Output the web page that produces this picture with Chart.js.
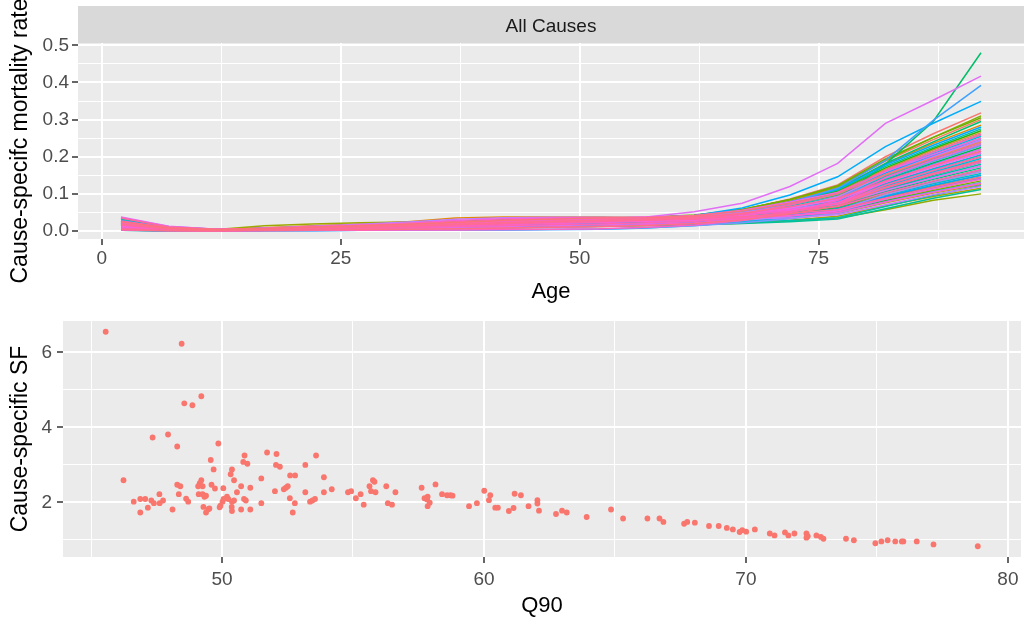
<!DOCTYPE html>
<html>
<head>
<meta charset="utf-8">
<script src="https://cdn.jsdelivr.net/npm/chart.js@4.4.1/dist/chart.umd.min.js"></script>
<style>
  body { margin: 0; background: #fff; }
  canvas { position: absolute; left: 0; }
</style>
</head>
<body>
<canvas id="rateChart" width="1025" height="310" style="top:0"></canvas>
<canvas id="sfChart" width="1025" height="312" style="top:310px"></canvas>
<script>
// age group midpoints
const ages = [2, 7, 12, 17, 22, 27, 32, 37, 42, 47, 52, 57, 62, 67, 72, 77, 82, 87, 92];

// all-cause mortality rate by age, one array per population
const p01 = [0.024,0.008,0.004,0.008,0.012,0.015,0.018,0.022,0.026,0.029,0.032,0.034,0.040,0.056,0.086,0.124,0.200,0.262,0.318];
const p02 = [0.016,0.005,0.003,0.007,0.011,0.014,0.017,0.021,0.025,0.028,0.030,0.032,0.037,0.052,0.080,0.118,0.188,0.246,0.300];
const p03 = [0.012,0.004,0.002,0.005,0.008,0.010,0.013,0.016,0.019,0.022,0.025,0.028,0.032,0.044,0.064,0.090,0.142,0.188,0.230];
const p04 = [0.030,0.010,0.005,0.008,0.011,0.014,0.018,0.024,0.030,0.034,0.036,0.036,0.042,0.055,0.078,0.106,0.166,0.218,0.265];
const p05 = [0.010,0.003,0.002,0.004,0.006,0.008,0.010,0.013,0.016,0.019,0.022,0.025,0.028,0.036,0.050,0.068,0.108,0.142,0.175];
const p06 = [0.022,0.007,0.004,0.009,0.014,0.019,0.025,0.035,0.038,0.038,0.038,0.036,0.042,0.058,0.084,0.116,0.180,0.236,0.285];
const p07 = [0.018,0.006,0.003,0.006,0.009,0.012,0.015,0.019,0.023,0.026,0.028,0.030,0.034,0.044,0.060,0.080,0.128,0.168,0.205];
const p08 = [0.006,0.002,0.001,0.003,0.005,0.007,0.009,0.011,0.014,0.017,0.020,0.022,0.025,0.031,0.041,0.055,0.086,0.113,0.140];
const p09 = [0.014,0.004,0.002,0.006,0.010,0.013,0.017,0.022,0.027,0.031,0.034,0.036,0.041,0.054,0.076,0.102,0.158,0.206,0.250];
const p10 = [0.004,0.001,0.001,0.002,0.004,0.005,0.007,0.009,0.012,0.015,0.018,0.020,0.023,0.030,0.042,0.060,0.098,0.130,0.160];
const p11 = [0.020,0.006,0.003,0.006,0.009,0.011,0.014,0.018,0.022,0.025,0.028,0.031,0.035,0.046,0.064,0.086,0.135,0.176,0.215];
const p12 = [0.009,0.003,0.001,0.003,0.005,0.007,0.009,0.012,0.015,0.018,0.020,0.023,0.026,0.033,0.045,0.060,0.093,0.122,0.150];
const p13 = [0.003,0.001,0.000,0.002,0.003,0.004,0.006,0.008,0.010,0.013,0.016,0.018,0.020,0.025,0.034,0.047,0.076,0.102,0.125];
const p14 = [0.002,0.001,0.000,0.001,0.002,0.003,0.004,0.006,0.008,0.010,0.012,0.015,0.017,0.021,0.029,0.040,0.068,0.093,0.115];
const p15 = [0.015,0.005,0.002,0.005,0.008,0.011,0.014,0.018,0.022,0.026,0.029,0.032,0.037,0.049,0.070,0.096,0.150,0.197,0.240];
const p16 = [0.012,0.005,0.004,0.014,0.019,0.022,0.024,0.027,0.030,0.032,0.033,0.033,0.036,0.045,0.060,0.080,0.120,0.158,0.190];
const p17 = [0.008,0.003,0.002,0.004,0.006,0.007,0.008,0.010,0.012,0.014,0.015,0.017,0.019,0.022,0.027,0.035,0.057,0.083,0.100];
const p18 = [0.026,0.009,0.004,0.007,0.010,0.013,0.017,0.022,0.027,0.031,0.034,0.036,0.042,0.057,0.084,0.120,0.190,0.252,0.310];
const p19 = [0.005,0.002,0.001,0.003,0.004,0.006,0.008,0.010,0.013,0.016,0.019,0.021,0.023,0.029,0.039,0.052,0.082,0.109,0.135];
const p20 = [0.018,0.006,0.003,0.007,0.011,0.014,0.018,0.023,0.028,0.032,0.035,0.037,0.043,0.058,0.085,0.122,0.194,0.252,0.305];
const p21 = [0.013,0.004,0.002,0.005,0.007,0.009,0.012,0.015,0.019,0.022,0.025,0.028,0.032,0.042,0.058,0.078,0.124,0.163,0.200];
const p22 = [0.007,0.002,0.001,0.003,0.005,0.007,0.009,0.012,0.015,0.018,0.021,0.023,0.026,0.033,0.046,0.063,0.102,0.134,0.165];
const p23 = [0.021,0.007,0.003,0.006,0.009,0.012,0.016,0.020,0.024,0.028,0.031,0.033,0.038,0.052,0.076,0.108,0.170,0.222,0.270];
const p24 = [0.008,0.003,0.001,0.004,0.006,0.008,0.011,0.014,0.017,0.020,0.023,0.026,0.029,0.038,0.052,0.071,0.114,0.151,0.185];
const p25 = [0.003,0.001,0.000,0.002,0.003,0.005,0.007,0.009,0.012,0.015,0.018,0.021,0.024,0.031,0.042,0.057,0.090,0.118,0.145];
const p26 = [0.016,0.005,0.002,0.005,0.008,0.010,0.013,0.017,0.021,0.024,0.027,0.030,0.034,0.045,0.063,0.087,0.139,0.183,0.225];
const p27 = [0.006,0.002,0.001,0.002,0.004,0.005,0.007,0.009,0.011,0.014,0.016,0.019,0.021,0.027,0.037,0.050,0.080,0.106,0.130];
const p28 = [0.010,0.003,0.002,0.005,0.008,0.010,0.013,0.016,0.019,0.022,0.025,0.027,0.031,0.040,0.058,0.085,0.180,0.295,0.480];
const p29 = [0.011,0.004,0.002,0.005,0.008,0.011,0.014,0.018,0.022,0.026,0.029,0.031,0.036,0.050,0.076,0.112,0.182,0.240,0.295];
const p30 = [0.023,0.007,0.003,0.006,0.009,0.012,0.015,0.019,0.024,0.028,0.031,0.033,0.038,0.051,0.073,0.102,0.162,0.213,0.260];
const p31 = [0.011,0.003,0.001,0.004,0.006,0.008,0.010,0.013,0.016,0.019,0.022,0.025,0.028,0.036,0.049,0.066,0.106,0.139,0.170];
const p32 = [0.004,0.001,0.001,0.002,0.003,0.004,0.005,0.007,0.009,0.011,0.013,0.015,0.017,0.020,0.025,0.032,0.060,0.088,0.112];
const p33 = [0.019,0.006,0.003,0.006,0.010,0.013,0.016,0.020,0.025,0.029,0.032,0.034,0.039,0.053,0.078,0.110,0.174,0.226,0.275];
const p34 = [0.032,0.010,0.004,0.005,0.006,0.007,0.009,0.011,0.013,0.015,0.017,0.019,0.021,0.024,0.028,0.036,0.066,0.096,0.122];
const p35 = [0.012,0.004,0.002,0.004,0.006,0.009,0.011,0.014,0.018,0.021,0.024,0.026,0.030,0.039,0.053,0.071,0.112,0.147,0.180];
const p36 = [0.034,0.011,0.004,0.006,0.009,0.012,0.015,0.019,0.023,0.027,0.030,0.032,0.037,0.050,0.072,0.098,0.154,0.201,0.245];
const p37 = [0.020,0.006,0.003,0.005,0.008,0.011,0.014,0.018,0.022,0.025,0.028,0.031,0.035,0.047,0.067,0.092,0.146,0.193,0.235];
const p38 = [0.005,0.002,0.001,0.003,0.004,0.006,0.008,0.011,0.014,0.017,0.020,0.022,0.025,0.032,0.044,0.060,0.096,0.127,0.155];
const p39 = [0.015,0.005,0.002,0.005,0.008,0.011,0.014,0.017,0.021,0.025,0.028,0.030,0.034,0.045,0.063,0.086,0.137,0.180,0.220];
const p40 = [0.009,0.003,0.001,0.004,0.006,0.008,0.011,0.014,0.017,0.020,0.023,0.026,0.030,0.039,0.055,0.075,0.120,0.159,0.195];
const p41 = [0.027,0.009,0.004,0.007,0.010,0.013,0.016,0.021,0.025,0.029,0.032,0.034,0.039,0.052,0.074,0.101,0.160,0.209,0.255];
const p42 = [0.002,0.000,0.000,0.001,0.001,0.002,0.002,0.003,0.003,0.004,0.005,0.008,0.015,0.024,0.036,0.052,0.086,0.115,0.142];
const p43 = [0.004,0.001,0.001,0.002,0.004,0.006,0.008,0.011,0.014,0.017,0.020,0.023,0.028,0.039,0.057,0.080,0.127,0.167,0.205];
const p44 = [0.028,0.009,0.004,0.007,0.010,0.013,0.017,0.021,0.026,0.030,0.033,0.035,0.039,0.052,0.073,0.100,0.157,0.204,0.245];
const p45 = [0.017,0.005,0.003,0.006,0.009,0.012,0.016,0.020,0.024,0.028,0.032,0.035,0.042,0.062,0.097,0.146,0.227,0.290,0.349];
const p46 = [0.021,0.006,0.003,0.006,0.009,0.012,0.015,0.020,0.024,0.028,0.031,0.033,0.038,0.052,0.078,0.112,0.178,0.231,0.280];
const p47 = [0.009,0.003,0.001,0.004,0.006,0.007,0.009,0.011,0.013,0.016,0.018,0.021,0.025,0.032,0.044,0.059,0.093,0.123,0.150];
const p48 = [0.014,0.004,0.002,0.005,0.008,0.011,0.014,0.018,0.022,0.026,0.029,0.032,0.037,0.051,0.077,0.115,0.190,0.298,0.392];
const p49 = [0.014,0.004,0.002,0.005,0.007,0.009,0.012,0.015,0.018,0.021,0.024,0.027,0.032,0.044,0.064,0.089,0.142,0.188,0.230];
const p50 = [0.002,0.001,0.000,0.001,0.001,0.002,0.002,0.003,0.003,0.004,0.005,0.009,0.014,0.022,0.033,0.048,0.079,0.106,0.130];
const p51 = [0.026,0.008,0.004,0.007,0.011,0.014,0.018,0.023,0.028,0.032,0.035,0.036,0.040,0.048,0.060,0.077,0.118,0.156,0.190];
const p52 = [0.036,0.012,0.005,0.006,0.008,0.011,0.014,0.018,0.022,0.026,0.029,0.031,0.036,0.049,0.071,0.100,0.160,0.212,0.260];
const p53 = [0.005,0.002,0.001,0.002,0.003,0.004,0.005,0.006,0.008,0.010,0.012,0.016,0.020,0.028,0.040,0.056,0.098,0.131,0.160];
const p54 = [0.018,0.006,0.003,0.008,0.013,0.018,0.024,0.032,0.036,0.037,0.037,0.036,0.040,0.050,0.065,0.085,0.132,0.172,0.210];
const p55 = [0.015,0.005,0.002,0.005,0.008,0.010,0.013,0.016,0.019,0.022,0.025,0.027,0.029,0.032,0.036,0.044,0.071,0.098,0.120];
const p56 = [0.010,0.003,0.001,0.003,0.005,0.007,0.008,0.010,0.012,0.015,0.017,0.020,0.026,0.040,0.062,0.092,0.152,0.200,0.245];
const p57 = [0.019,0.006,0.003,0.005,0.008,0.011,0.014,0.018,0.022,0.026,0.029,0.031,0.034,0.042,0.056,0.072,0.110,0.143,0.175];
const p58 = [0.025,0.008,0.004,0.007,0.010,0.013,0.017,0.021,0.026,0.030,0.034,0.038,0.052,0.075,0.120,0.182,0.290,0.352,0.417];
const p59 = [0.038,0.013,0.005,0.006,0.008,0.010,0.013,0.017,0.021,0.024,0.027,0.029,0.033,0.044,0.062,0.084,0.132,0.172,0.210];
const p60 = [0.024,0.008,0.004,0.007,0.010,0.013,0.017,0.022,0.027,0.031,0.034,0.037,0.042,0.056,0.078,0.104,0.160,0.206,0.250];
const p61 = [0.013,0.004,0.002,0.004,0.006,0.008,0.011,0.014,0.017,0.020,0.023,0.026,0.029,0.034,0.042,0.054,0.086,0.114,0.140];
const p62 = [0.006,0.002,0.001,0.002,0.003,0.004,0.005,0.007,0.009,0.011,0.013,0.017,0.022,0.032,0.050,0.076,0.132,0.178,0.220];
const p63 = [0.017,0.005,0.003,0.007,0.012,0.016,0.021,0.028,0.033,0.035,0.036,0.035,0.038,0.046,0.058,0.074,0.116,0.152,0.185];
const p64 = [0.022,0.007,0.003,0.006,0.009,0.012,0.016,0.020,0.024,0.027,0.030,0.031,0.033,0.036,0.041,0.050,0.078,0.104,0.128];
const p65 = [0.003,0.001,0.000,0.001,0.002,0.002,0.003,0.003,0.004,0.005,0.006,0.010,0.016,0.028,0.050,0.082,0.144,0.192,0.235];
const p66 = [0.027,0.009,0.004,0.007,0.011,0.015,0.019,0.024,0.029,0.033,0.036,0.037,0.039,0.044,0.053,0.066,0.103,0.135,0.165];
const p67 = [0.008,0.002,0.001,0.003,0.005,0.007,0.009,0.012,0.014,0.017,0.019,0.022,0.026,0.036,0.052,0.074,0.124,0.163,0.200];
const p68 = [0.016,0.005,0.002,0.005,0.008,0.010,0.013,0.016,0.019,0.022,0.025,0.028,0.032,0.046,0.070,0.101,0.163,0.213,0.260];
const p69 = [0.035,0.011,0.005,0.006,0.008,0.010,0.013,0.017,0.021,0.025,0.028,0.030,0.034,0.039,0.047,0.058,0.089,0.118,0.145];
const p70 = [0.019,0.006,0.003,0.005,0.008,0.011,0.014,0.018,0.022,0.026,0.029,0.032,0.037,0.048,0.065,0.088,0.135,0.176,0.215];
const p71 = [0.004,0.001,0.001,0.002,0.003,0.004,0.005,0.006,0.008,0.010,0.012,0.015,0.020,0.030,0.046,0.068,0.117,0.155,0.190];
const p72 = [0.025,0.008,0.004,0.007,0.011,0.014,0.018,0.023,0.028,0.032,0.035,0.036,0.041,0.054,0.075,0.100,0.152,0.197,0.240];

const series = [
  p01, p02, p03, p04, p05, p06, p07, p08, p09, p10, p11, p12, p13, p14, p15, p16, p17, p18,
  p19, p20, p21, p22, p23, p24, p25, p26, p27, p28, p29, p30, p31, p32, p33, p34, p35, p36,
  p37, p38, p39, p40, p41, p42, p43, p44, p45, p46, p47, p48, p49, p50, p51, p52, p53, p54,
  p55, p56, p57, p58, p59, p60, p61, p62, p63, p64, p65, p66, p67, p68, p69, p70, p71, p72
];

// Q90 vs cause-specific SF, one point per population
const q90 = [45.56,48.46,49.21,48.56,48.87,47.35,47.94,48.29,49.86,46.24,49.57,49.68,50.86,50.81,50.97,50.38,50.33,50.46,48.29,48.41,
  48.35,46.63,46.88,47.07,46.88,47.17,47.30,47.40,47.61,47.62,47.75,48.11,48.63,48.71,49.21,49.15,49.09,49.26,49.11,49.26,
  49.33,49.39,49.29,49.48,49.39,49.52,49.60,49.73,50.05,49.94,49.91,50.02,50.06,50.19,50.24,50.38,50.37,50.38,50.46,50.57,
  50.73,50.84,50.91,50.73,51.08,51.08,
  51.72,52.08,52.06,52.21,51.50,51.50,52.02,52.36,52.44,52.51,52.60,52.79,52.59,52.78,52.70,53.18,53.59,53.18,53.36,53.45,
  53.55,53.89,53.89,54.19,54.81,54.93,55.11,55.29,55.41,55.63,55.76,55.82,55.69,55.86,56.27,56.33,56.49,56.62,
  57.62,58.15,57.73,57.85,57.83,57.93,57.85,58.40,58.59,58.72,58.80,59.43,59.73,60.01,60.24,60.19,60.43,60.53,60.95,61.13,
  61.17,61.41,61.70,62.04,62.04,62.10,62.75,62.98,63.16,63.92,
  64.85,65.31,66.24,66.70,66.85,67.64,67.76,68.05,68.59,68.96,69.27,69.50,69.76,69.86,70.01,70.34,70.91,71.09,71.49,71.62,
  71.85,72.31,72.31,72.36,72.69,72.86,72.96,73.82,74.12,74.94,75.17,75.41,75.70,75.95,76.01,76.52,77.16,78.85];
const causeSF = [6.55,6.23,4.83,4.64,4.59,3.73,3.81,3.49,3.57,2.59,3.13,2.88,3.25,3.08,3.03,2.88,2.75,2.59,2.47,2.43,
  2.22,2.02,2.09,2.09,1.73,1.86,2.05,1.98,2.22,1.98,2.05,1.81,2.10,2.02,2.59,2.51,2.43,2.43,2.22,2.22,
  2.15,2.18,1.88,1.82,1.73,1.84,2.47,2.37,2.38,1.91,1.87,2.02,2.09,2.15,2.09,2.02,1.88,1.77,2.05,2.27,
  2.43,2.09,2.05,1.81,1.81,2.39,
  3.33,3.29,3.00,2.95,2.64,1.98,2.30,2.35,2.39,2.43,2.72,2.72,2.11,1.98,1.73,3.00,3.25,2.27,2.02,2.05,
  2.09,2.67,2.27,2.35,2.27,2.30,2.11,2.22,1.94,2.43,2.59,2.55,2.30,2.27,2.43,1.98,1.94,2.27,
  2.39,2.48,2.11,2.15,2.08,1.99,1.90,2.22,2.19,2.19,2.18,1.90,1.98,2.31,2.19,2.06,1.86,1.86,1.77,1.85,
  2.23,2.19,1.90,2.06,1.97,1.78,1.69,1.78,1.73,1.61,
  1.81,1.57,1.57,1.57,1.48,1.43,1.48,1.46,1.37,1.37,1.32,1.28,1.21,1.26,1.22,1.28,1.17,1.12,1.20,1.12,
  1.17,1.17,1.06,1.10,1.12,1.08,1.03,1.03,0.99,0.91,0.96,0.99,0.96,0.96,0.96,0.96,0.88,0.83];

// axis breaks (labelled) and the unlabelled grid lines between them
const rateTicks = [0, 0.1, 0.2, 0.3, 0.4, 0.5];
const rateMinor = [0.05, 0.15, 0.25, 0.35, 0.45];
const ageTicks = [0, 25, 50, 75];
const ageMinor = [12.5, 37.5, 62.5, 87.5];
const sfTicks = [2, 4, 6];
const sfMinor = [1, 3, 5];
const q90Ticks = [50, 60, 70, 80];
const q90Minor = [45, 55, 65, 75];

const FONT = "'Liberation Sans', Arial, Helvetica, sans-serif";
Chart.defaults.font.family = FONT;

// ggplot-style hue palette (HCL, c = 100, l = 65)
function hcl(h, c, l) {
  const hr = h * Math.PI / 180;
  const U = c * Math.cos(hr), V = c * Math.sin(hr);
  const Y = l > 8 ? Math.pow((l + 16) / 116, 3) : l / 903.3;
  const xn = 0.95047, yn = 1, zn = 1.08883;
  const den = xn + 15 * yn + 3 * zn;
  const u = U / (13 * l) + 4 * xn / den;
  const v = V / (13 * l) + 9 * yn / den;
  const X = 9 * Y * u / (4 * v);
  const Z = -X / 3 - 5 * Y + 3 * Y / v;
  const lin = [
    3.240479 * X - 1.537150 * Y - 0.498535 * Z,
    -0.969256 * X + 1.875992 * Y + 0.041556 * Z,
    0.055648 * X - 0.204043 * Y + 1.057311 * Z
  ];
  return '#' + lin.map(t => {
    let s = t <= 0.0031308 ? 12.92 * t : 1.055 * Math.pow(t, 1 / 2.4) - 0.055;
    s = Math.min(1, Math.max(0, s));
    return Math.round(s * 255).toString(16).padStart(2, '0');
  }).join('');
}
function huePalette(n) {
  const out = [];
  for (let i = 0; i < n; i++) out.push(hcl(15 + 360 * i / n, 100, 65));
  return out;
}

function gridTicks(major, minor) {
  return major.map(v => ({ value: v, minor: false }))
    .concat(minor.map(v => ({ value: v, minor: true })))
    .sort((a, b) => a.value - b.value);
}

const panelBackground = {
  id: 'panelBackground',
  beforeDraw(chart) {
    const { ctx, chartArea: a } = chart;
    ctx.save();
    ctx.fillStyle = '#EBEBEB';
    ctx.fillRect(a.left, a.top, a.right - a.left, a.bottom - a.top);
    ctx.restore();
  }
};

// grey facet label above the panel
const facetStrip = {
  id: 'facetStrip',
  beforeDraw(chart, args, opts) {
    if (!opts.text) return;
    const { ctx, chartArea: a } = chart;
    ctx.save();
    ctx.fillStyle = '#D9D9D9';
    ctx.fillRect(a.left, opts.top, a.right - a.left, a.top - opts.top);
    ctx.fillStyle = '#1A1A1A';
    ctx.font = '19px ' + FONT;
    ctx.textAlign = 'center';
    ctx.textBaseline = 'middle';
    ctx.fillText(opts.text, (a.left + a.right) / 2, (opts.top + a.top) / 2 + 2);
    ctx.restore();
  }
};

function axis(opts) {
  const { min, max, major, minor, fmt, size, title, titleSize, titlePad, tickPad, horizontal } = opts;
  return {
    type: 'linear',
    min: min,
    max: max,
    afterBuildTicks: s => { s.ticks = gridTicks(major, minor); },
    afterFit: s => {
      if (horizontal) s.height = size; else s.width = size;
      s.paddingLeft = s.paddingRight = s.paddingTop = s.paddingBottom = 0;
    },
    border: { display: false },
    grid: {
      color: '#FFFFFF',
      lineWidth: c => (c.tick && c.tick.minor) ? 1 : 2,
      tickColor: c => (c.tick && c.tick.minor) ? 'rgba(0,0,0,0)' : '#333333',
      tickLength: 6,
      tickWidth: 1.5
    },
    ticks: {
      autoSkip: false,
      maxRotation: 0,
      padding: tickPad,
      color: '#4D4D4D',
      font: { size: 19, lineHeight: 1 },
      callback: (v, i, t) => t[i].minor ? '' : fmt(v)
    },
    title: {
      display: true,
      text: title,
      color: '#000000',
      font: { size: titleSize, lineHeight: 1 },
      padding: horizontal ? { top: 0, bottom: titlePad } : { top: titlePad, bottom: 0 }
    }
  };
}

const palette = huePalette(series.length);

new Chart(document.getElementById('rateChart'), {
  type: 'line',
  data: {
    datasets: series.map((vals, i) => ({
      data: vals.map((v, j) => ({ x: ages[j], y: v })),
      borderColor: palette[i],
      borderWidth: 1.5,
      pointRadius: 0,
      tension: 0,
      fill: false,
      order: series.length - i
    }))
  },
  options: {
    responsive: false,
    animation: false,
    events: [],
    layout: { padding: { top: 43, right: 1, left: 0, bottom: 0 } },
    plugins: {
      legend: { display: false },
      tooltip: { enabled: false },
      facetStrip: { text: 'All Causes', top: 6 }
    },
    scales: {
      x: axis({ min: -2.5, max: 96.5, major: ageTicks, minor: ageMinor, fmt: v => String(v),
                size: 71, title: 'Age', titleSize: 22, titlePad: 7, tickPad: 4, horizontal: true }),
      y: axis({ min: -0.0215, max: 0.5062, major: rateTicks, minor: rateMinor, fmt: v => v.toFixed(1),
                size: 78, title: 'Cause-specifc mortality rate', titleSize: 23, titlePad: 9, tickPad: 3, horizontal: false })
    }
  },
  plugins: [panelBackground, facetStrip]
});

new Chart(document.getElementById('sfChart'), {
  type: 'scatter',
  data: {
    datasets: [{
      data: q90.map((x, i) => ({ x: x, y: causeSF[i] })),
      backgroundColor: '#F8766D',
      borderWidth: 0,
      pointRadius: 2.9
    }]
  },
  options: {
    responsive: false,
    animation: false,
    events: [],
    layout: { padding: { top: 11, right: 1, left: 0, bottom: 0 } },
    plugins: {
      legend: { display: false },
      tooltip: { enabled: false }
    },
    scales: {
      x: axis({ min: 43.93, max: 80.5, major: q90Ticks, minor: q90Minor, fmt: v => String(v),
                size: 65, title: 'Q90', titleSize: 22, titlePad: 5, tickPad: 7, horizontal: true }),
      y: axis({ min: 0.544, max: 6.836, major: sfTicks, minor: sfMinor, fmt: v => String(v),
                size: 63, title: 'Cause-specific SF', titleSize: 23, titlePad: 9, tickPad: 5, horizontal: false })
    }
  },
  plugins: [panelBackground]
});
</script>
</body>
</html>
